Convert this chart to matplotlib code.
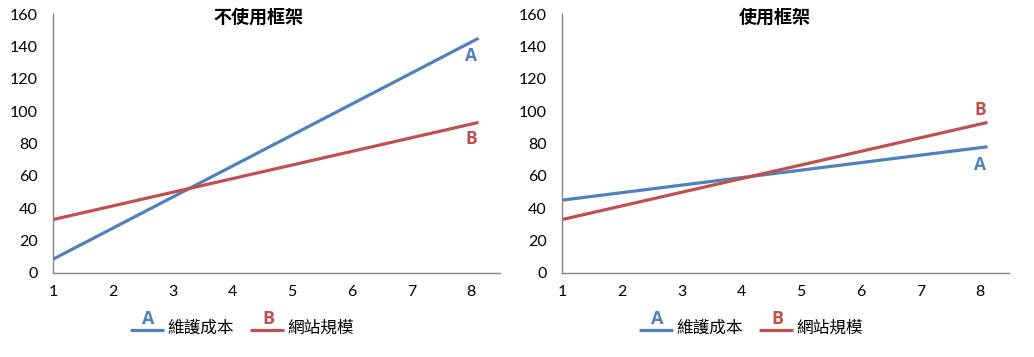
import matplotlib
matplotlib.use("Agg")
import matplotlib.pyplot as plt

plt.rcParams['font.family'] = ['Lato', 'Noto Sans CJK TC', 'DejaVu Sans']

# ---- data ----
x_ends = [1, 8.12]
titles = ["不使用框架", "使用框架"]
series_names = ["維護成本", "網站規模"]
series_letters = ["A", "B"]
left_A = [8.5, 145]
left_B = [33, 93]
right_A = [45, 78]
right_B = [33, 93]
x_ticks = [1, 2, 3, 4, 5, 6, 7, 8]
y_ticks = [0, 20, 40, 60, 80, 100, 120, 140, 160]
# letter label positions (x, y) near line ends
left_label_pos = [(8.0, 134), (8.0, 83)]
right_label_pos = [(8.0, 67), (8.0, 101)]

BLUE = "#4F81BD"
RED = "#C0504D"
colors = [BLUE, RED]

W, H = 1034, 357
fig = plt.figure(figsize=(W / 100, H / 100), dpi=100)

panels = [
    (53, titles[0], [left_A, left_B], left_label_pos, 258),
    (562, titles[1], [right_A, right_B], right_label_pos, 775),
]

for left_px, title, data, label_pos, title_px in panels:
    ax_w = 447
    ax = fig.add_axes([left_px / W, 1 - 273 / H, ax_w / W, 259 / H])
    for vals, c in zip(data, colors):
        ax.plot(x_ends, vals, color=c, lw=2.3, solid_capstyle='butt')
    for (lx, ly), letter, c in zip(label_pos, series_letters, colors):
        ax.text(lx, ly, letter, color=c, fontsize=12.5, fontweight='bold',
                ha='center', va='center', family=['Open Sans', 'DejaVu Sans'])
    ax.set_xlim(1, 8.48)
    ax.set_ylim(0, 160)
    ax.set_xticks(x_ticks)
    ax.set_yticks(y_ticks)
    ax.tick_params(length=0, labelsize=11.5, colors='#000000')
    ax.tick_params(axis='y', pad=11)
    ax.tick_params(axis='x', pad=9)
    for s in ['top', 'right']:
        ax.spines[s].set_visible(False)
    for s in ['left', 'bottom']:
        ax.spines[s].set_color('#868686')
        ax.spines[s].set_linewidth(1)
    ax.text((title_px - left_px) / ax_w, (273 - 17) / 259, title,
            transform=ax.transAxes, ha='center', va='center',
            fontsize=13, fontweight='bold',
            family=['Noto Sans CJK TC', 'DejaVu Sans'])

    # custom legend below the axes
    def fx(px):
        return (px - left_px) / ax_w

    def fy(py):
        return (273 - py) / 259

    offs = [(130 - 53), (250 - 53)]
    for off, name, letter, c in zip(offs, series_names, series_letters, colors):
        x0 = left_px + off
        ax.plot([fx(x0), fx(x0 + 34)], [fy(330), fy(330)], transform=ax.transAxes,
                color=c, lw=2.3, clip_on=False, solid_capstyle='butt')
        ax.text(fx(x0 + 18), fy(319), letter, transform=ax.transAxes,
                color=c, fontsize=13, fontweight='bold', ha='center', va='center',
                family=['Open Sans', 'DejaVu Sans'])
        ax.text(fx(x0 + 37), fy(328), name, transform=ax.transAxes,
                color='black', fontsize=12, ha='left', va='center',
                family=['Noto Sans CJK TC', 'DejaVu Sans'])

fig.savefig("out.png", dpi=100)
